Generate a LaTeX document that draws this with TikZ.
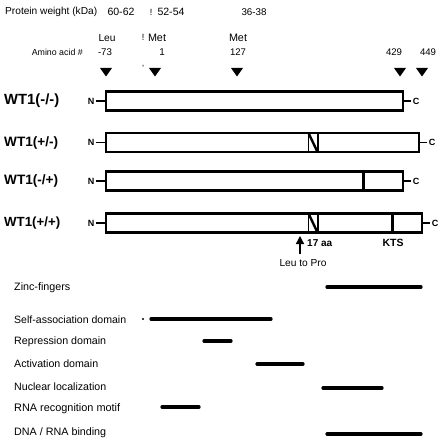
\documentclass[tikz,border=0pt]{standalone}
\usepackage{fontspec}
\setmainfont{Liberation Sans}
\usetikzlibrary{arrows.meta}
\newcommand\fitw[2]{\resizebox{#1pt}{!}{#2}}
\begin{document}
\begin{tikzpicture}[x=1pt,y=-1pt,
  txt/.style={font=\fontsize{9.6}{11}\selectfont, inner sep=0pt},
  dom/.style={font=\fontsize{10.5}{12}\selectfont, inner sep=0pt, anchor=west},
  wt/.style={font=\bfseries\fontsize{13.3}{15}\selectfont, inner sep=0pt, anchor=west},
  nc/.style={font=\bfseries\fontsize{8.5}{10}\selectfont, inner sep=0pt},
  bar/.style={draw, line width=2.8pt, fill=white},
  conn/.style={line width=1.8pt},
  dline/.style={line width=3.2pt, line cap=round},
  tridown/.pic={\fill (-6,-4) -- (6,-4) -- (0,4.5) -- cycle;}
]
\useasboundingbox (0,0) rectangle (441,446);

% header texts
\node[txt, anchor=west] (pw) at (5,12) {\fitw{92}{Protein weight (kDa)}};
\node[txt] (w1) at (121,12) {\fitw{27}{60-62}};
\node[txt] (s1) at (151,12) {\fitw{2.5}{!}};
\node[txt] (w2) at (171,12) {\fitw{27}{52-54}};
\node[txt] (w3) at (254,12) {\fitw{25}{36-38}};

\node[txt] (leu) at (107,38) {\fitw{17}{Leu}};
\node[txt] (s2) at (143,37.5) {\fitw{2.5}{!}};
\node[txt] (met1) at (157,38) {\fitw{18}{Met}};
\node[txt] (met2) at (238,38) {\fitw{18}{Met}};

\node[txt, anchor=east] (aa) at (83,52) {\fitw{51}{Amino acid \#}};
\node[txt] (a1) at (105,52) {\fitw{14}{-73}};
\node[txt] (a2) at (162,52) {\fitw{5.5}{1}};
\node[txt] (a3) at (238,52) {\fitw{16}{127}};
\node[txt] (a4) at (394,52) {\fitw{16}{429}};
\node[txt] (a5) at (428,52) {\fitw{16}{449}};

\pic at (106,72) {tridown};
\pic at (155,72) {tridown};
\pic at (237,72) {tridown};
\pic at (400,72) {tridown};
\pic at (422,72) {tridown};
\node[txt] (s3) at (143,68.5) {\fitw{2}{'}};

% WT1 rows
\node[wt] (l1) at (4,101) {\fitw{55}{WT1(-/-)}};
\node[wt] (l2) at (4,142.5) {\fitw{54}{WT1(+/-)}};
\node[wt] (l3) at (4,181) {\fitw{54}{WT1(-/+)}};
\node[wt] (l4) at (4,223) {\fitw{56}{WT1(+/+)}};

\foreach \i/\y/\r in {1/101/403, 2/142.5/419, 3/181/403, 4/223/422}{
  \draw[bar] (106,\y-9.5) rectangle (\r,\y+9.5);
  \node[nc] (n\i) at (91,\y) {\fitw{6.5}{N}};
  \node[nc] (c\i) at (\r+13,\y) {\fitw{6.5}{C}};
  \coordinate (nl\i) at (106,\y);
  \coordinate (cr\i) at (\r,\y);
  \draw[conn] (n\i.east) ++(1.2,0) -- (nl\i);
  \draw[conn] (cr\i) -- ([xshift=-1.2pt]c\i.west);
}

% 17 aa insert (hatched notch)
\foreach \y in {142.5,223}{
  \draw[line width=0.9pt] (308,\y-9.5) -- (308,\y+9.5);
  \draw[line width=2.4pt] (308.5,\y-9.5) -- (317.5,\y+9.5);
  \draw[line width=2.4pt] (318,\y-9.5) -- (318,\y+9.5);
}
% KTS insert
\draw[line width=3pt] (363,171.5) -- (363,190.5);
\draw[line width=3pt] (392,213.5) -- (392,232.5);

% arrow and labels below
\node[txt] (ltp) at (303,263) {\fitw{47}{Leu to Pro}};
\coordinate (ah) at (300,236);
\coordinate (at) at (300,254);
\draw[line width=1.3pt, -{Triangle[length=8pt,width=8pt]}] (at) -- (ah);
\node[txt, font=\bfseries\fontsize{10}{11}\selectfont, anchor=west] (aa17) at (307,243) {\fitw{25}{17 aa}};
\node[txt, font=\bfseries\fontsize{10}{11}\selectfont] (kts) at (393,243) {\fitw{21}{KTS}};

% domains
\node[dom] (d1) at (14,288) {\fitw{56}{Zinc-fingers}};
\node[dom] (d2) at (14,320) {\fitw{112}{Self-association domain}};
\node[dom] (d3) at (14,342) {\fitw{92}{Repression domain}};
\node[dom] (d4) at (14,364) {\fitw{84}{Activation domain}};
\node[dom] (d5) at (14,387) {\fitw{92}{Nuclear localization}};
\node[dom] (d6) at (14,409) {\fitw{106}{RNA recognition motif}};
\node[dom] (d7) at (14,433) {\fitw{92}{DNA / RNA binding}};

\draw[dline] (327,287) -- (421,287);
\fill (143,319) circle (1.1pt);
\draw[dline] (151,319) -- (271,319);
\draw[dline] (204,341) -- (231,341);
\draw[dline] (257,364) -- (303,364);
\draw[dline] (323,388) -- (382,388);
\draw[dline] (162,407) -- (199,407);
\draw[dline] (327,434) -- (421,434);
\end{tikzpicture}
\end{document}
